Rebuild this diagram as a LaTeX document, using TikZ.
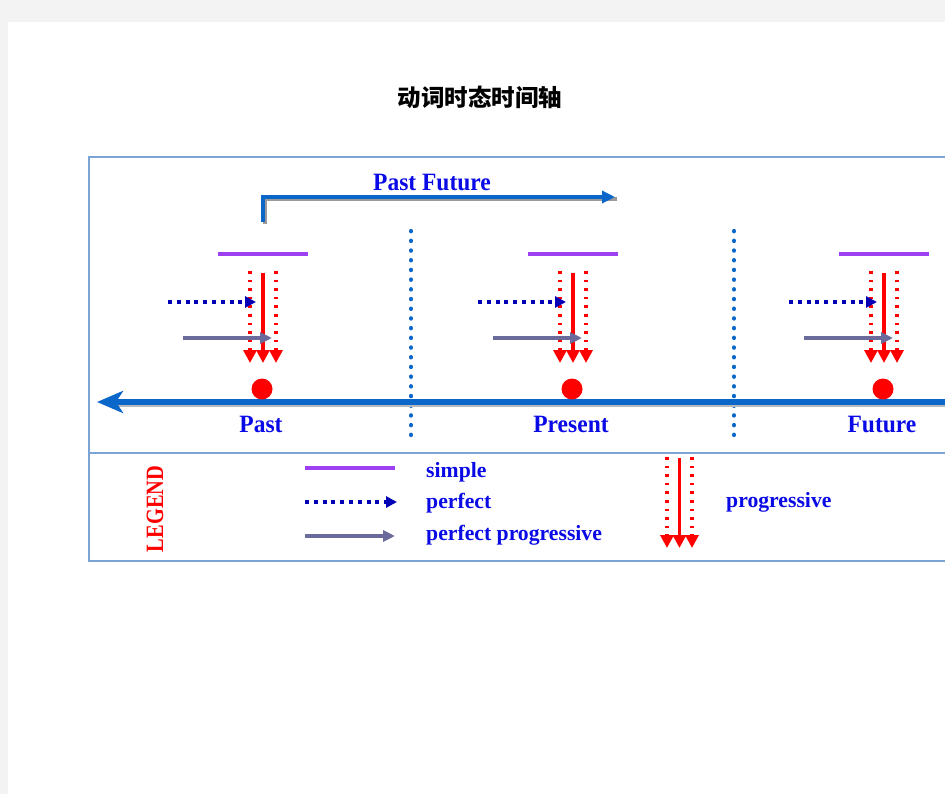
\documentclass[tikz,border=0pt]{standalone}
\usepackage{fontspec}
\setmainfont{Liberation Serif}
\newfontfamily\cjk{Noto Sans CJK SC}
\usetikzlibrary{arrows.meta}
\definecolor{pagebg}{HTML}{F3F3F3}
\definecolor{boxline}{HTML}{7BA3D4}
\definecolor{axisblue}{HTML}{0A66C8}
\definecolor{txtblue}{HTML}{0A0AE6}
\definecolor{simplec}{HTML}{9D40F2}
\definecolor{perfc}{HTML}{0000B4}
\definecolor{ppc}{HTML}{6B6B9B}
\definecolor{shadowc}{HTML}{9A9A9A}
\tikzset{
  lbl/.style={text=txtblue,font=\fontsize{23.5}{28}\selectfont\bfseries,inner sep=0pt},
  leglbl/.style={text=txtblue,font=\fontsize{21.7}{26}\selectfont\bfseries,inner sep=0pt,anchor=base west},
  simpleln/.style={draw=simplec,line width=4pt},
  perfarr/.style={draw=perfc,line width=3.4pt,dash pattern=on 4pt off 4.8pt,-{Triangle[length=11pt,width=11pt]}},
  pparr/.style={draw=ppc,line width=3.2pt,-{Triangle[length=12pt,width=11pt]}},
  progsolid/.style={draw=red,line width=3.2pt,-{Triangle[length=13pt,width=13pt]}},
  progdot/.style={draw=red,line width=3.4pt,dash pattern=on 2.6pt off 6pt,-{Triangle[length=13pt,width=13pt]}},
  sepdots/.style={draw=axisblue,line width=4.2pt,dash pattern=on 0.3pt off 9.4pt,line cap=round},
}
\begin{document}
\begin{tikzpicture}[x=1pt,y=-1pt]
\fill[pagebg] (0,0) rectangle (945,794);
\fill[white] (8,22) rectangle (945,794);
\useasboundingbox (0,0) rectangle (945,794);
\clip (0,0) rectangle (945,794);

% title
\node[font=\cjk\bfseries\fontsize{23.5}{28}\selectfont,text=black,inner sep=0pt] (title) at (480,97) {动词时态时间轴};

% frame
\draw[boxline,line width=2pt] (960,157) -- (89,157) -- (89,561) -- (960,561);
\draw[boxline,line width=2pt] (89,453) -- (960,453);

% past future bracket
\coordinate (pfs) at (263,222);
\coordinate (pfc) at (263,197);
\coordinate (pfe) at (615,197);
\draw[shadowc,line width=4.5pt] ([shift={(2,2)}]pfs) -- ([shift={(2,2)}]pfc) -- ([shift={(2,2)}]pfe);
\draw[axisblue,line width=4.5pt,-{Triangle[length=13pt,width=12pt]}] (pfs) -- (pfc) -- (pfe);
\node[lbl] (pflbl) at (432,182) {\scalebox{1}[1.06]{Past Future}};

% separators
\draw[sepdots] (411,231) -- (411,436);
\draw[sepdots] (734,231) -- (734,436);

% axis
\coordinate (axr) at (960,402);
\coordinate (axl) at (97,402);
\draw[shadowc!70,line width=6pt] ([shift={(0,2)}]axr) -- ([shift={(20,2)}]axl);
\draw[axisblue,line width=6.5pt,-{Stealth[length=26pt,width=22pt,inset=7pt]}] (axr) -- (axl);

% groups
\foreach \cx/\nm/\txt in {263/pa/Past,573/pr/Present,884/fu/Future}{
  \draw[simpleln] (\cx-45,254) -- (\cx+45,254);
  \draw[progdot] (\cx-13,271) -- (\cx-13,363);
  \draw[progdot] (\cx+13,271) -- (\cx+13,363);
  \draw[progsolid] (\cx,273) -- (\cx,363);
  \coordinate (\nm ps) at (\cx-95,302);
  \coordinate (\nm pe) at (\cx-7,302);
  \draw[perfarr] (\nm ps) -- (\nm pe);
  \coordinate (\nm gs) at (\cx-80,338);
  \coordinate (\nm ge) at (\cx+9,338);
  \draw[pparr] (\nm gs) -- (\nm ge);
  \fill[red] (\cx-1,389) circle (10.5);
  \node[lbl] (\nm lbl) at (\cx-2,424) {\scalebox{1}[1.06]{\txt}};
}

% legend
\node[text=red,font=\fontsize{20.4}{24}\selectfont\bfseries,rotate=90,inner sep=0pt] (legend) at (155,509) {\scalebox{1}[1.22]{LEGEND}};
\draw[simpleln] (305,468) -- (395,468);
\draw[perfarr] (305,502) -- (397,502);
\draw[pparr] (305,536) -- (395,536);
\node[leglbl] (lsimple) at (426,477.5) {simple};
\node[leglbl] (lperf) at (426,508.5) {perfect};
\node[leglbl] (lpp) at (426,540.5) {perfect progressive};
\draw[progdot] (667,457) -- (667,548);
\draw[progdot] (692,457) -- (692,548);
\draw[progsolid] (679.5,458) -- (679.5,548);
\node[leglbl] (lprog) at (726,507.5) {progressive};
\end{tikzpicture}
\end{document}
